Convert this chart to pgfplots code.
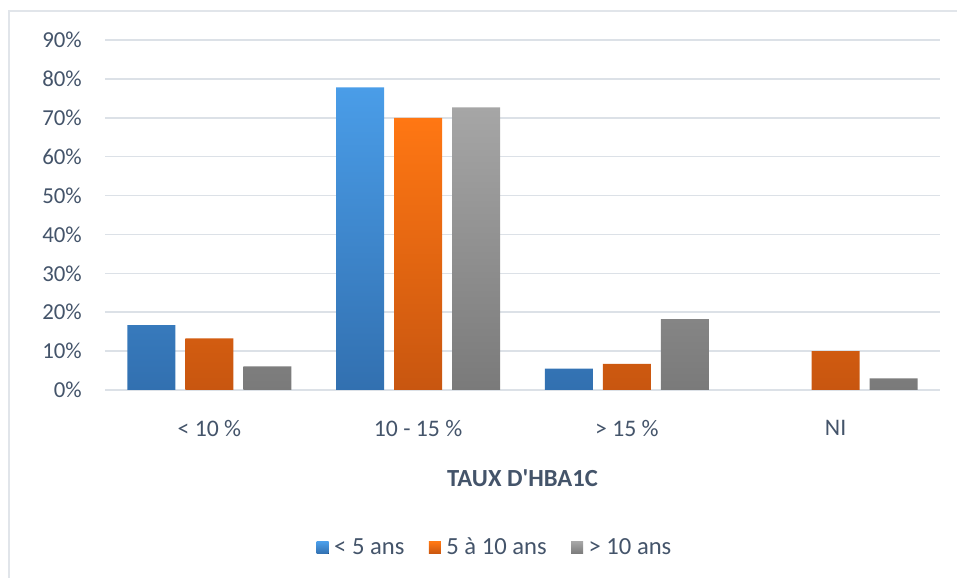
\documentclass[border=0pt]{standalone}
\usepackage{fontspec}
\setmainfont{Carlito}
\usepackage{pgfplots}
\pgfplotsset{compat=1.18}
\definecolor{txt}{HTML}{44546A}
\definecolor{gridc}{HTML}{DCE1E7}
\definecolor{bord}{HTML}{E1E5EA}
\definecolor{blueT}{HTML}{4A9DE8}
\definecolor{blueB}{HTML}{3270B0}
\definecolor{orT}{HTML}{FF7713}
\definecolor{orB}{HTML}{C85610}
\definecolor{grT}{HTML}{A6A6A6}
\definecolor{grB}{HTML}{7A7A7A}
\begin{document}
\begin{tikzpicture}
\useasboundingbox (-2.1,-3.76) rectangle (17.04,7.8);
\draw[bord, line width=0.9pt] (-1.92,-3.76) -- (-1.92,7.58) -- (17.04,7.58);
\begin{axis}[
  at={(0,0)}, anchor=south west,
  scale only axis, width=16.7cm, height=7cm,
  xmin=-0.5, xmax=3.5, ymin=0, ymax=90,
  ybar=0.2cm, bar width=0.96cm,
  xtick={0,1,2,3},
  xticklabels={{< 10 \%},{10 - 15 \%},{> 15 \%},NI},
  ytick={0,10,...,90},
  yticklabel={\pgfmathprintnumber{\tick}\%},
  /pgf/number format/assume math mode=true,
  ymajorgrids, grid style={gridc, line width=0.9pt},
  axis line style={draw=none}, major tick length=0pt,
  tick label style={text=txt},
  y tick label style={font=\fontsize{13}{15}\selectfont, xshift=-0.34cm},
  x tick label style={font=\fontsize{13.5}{16}\selectfont, yshift=-0.48cm},
  xlabel={TAUX D\textquotesingle HBA1C},
  xlabel style={at={(axis description cs:0.5,0)}, anchor=center, yshift=-1.76cm,
    font=\bfseries\fontsize{14}{16}\selectfont, text=txt},
  legend style={at={(0.468,-0.451)}, anchor=center, draw=none, fill=none,
    font=\fontsize{14}{16}\selectfont, text=txt,
    /tikz/every odd column/.append style={column sep=0.04cm},
    /tikz/every even column/.append style={column sep=0.42cm}},
  legend columns=-1,
  legend image code/.code={\fill[#1] (0cm,-0.12cm) rectangle (0.24cm,0.12cm);},
]
\addplot[draw=none, top color=blueT, bottom color=blueB]
  coordinates {(0,16.7) (1,77.8) (2,5.5)};
\addplot[draw=none, top color=orT, bottom color=orB]
  coordinates {(0,13.3) (1,70.0) (2,6.7) (3,10.0)};
\addplot[draw=none, top color=grT, bottom color=grB]
  coordinates {(0,6.1) (1,72.7) (2,18.2) (3,3.0)};
\legend{< 5 ans, 5 à 10 ans, > 10 ans}
\end{axis}
\end{tikzpicture}
\end{document}
